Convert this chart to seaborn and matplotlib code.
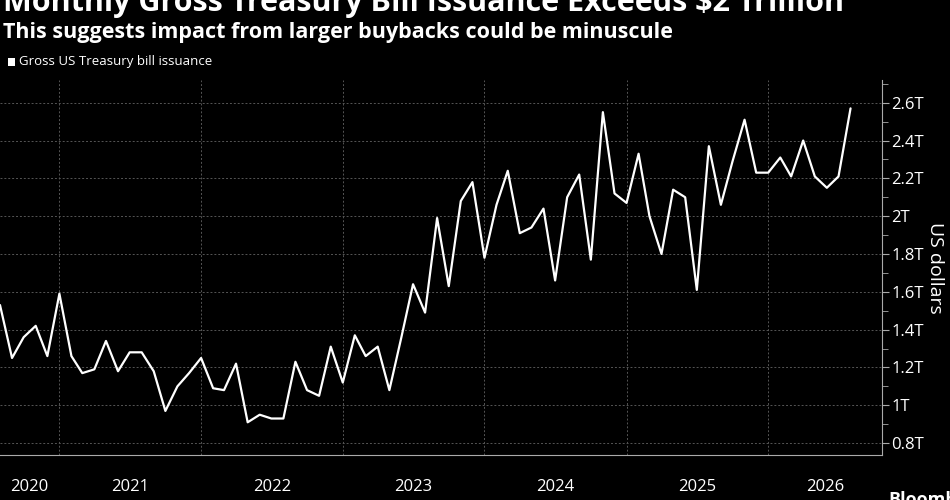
import matplotlib
matplotlib.use("Agg")
import matplotlib.pyplot as plt
import matplotlib.dates as mdates
import seaborn as sns
import pandas as pd
import numpy as np

values = [1.53,1.25,1.36,1.42,1.26,1.59,1.26,1.17,1.19,1.34,1.18,1.28,1.28,1.18,0.97,1.10,
          1.17,1.25,1.09,1.08,1.22,0.91,0.95,0.93,0.93,1.23,1.08,1.05,1.31,1.12,1.37,1.26,
          1.31,1.08,1.36,1.64,1.49,1.99,1.63,2.08,2.18,1.78,2.06,2.24,1.91,1.94,2.04,1.66,
          2.10,2.22,1.77,2.55,2.12,2.07,2.33,2.00,1.80,2.14,2.10,1.61,2.37,2.06,2.29,2.51,
          2.23,2.23,2.31,2.21,2.40,2.21,2.15,2.21,2.57]
dates = pd.date_range("2020-08-01", periods=len(values), freq="MS")
years = [2020, 2021, 2022, 2023, 2024, 2025, 2026]
yticks = [0.8, 1.0, 1.2, 1.4, 1.6, 1.8, 2.0, 2.2, 2.4, 2.6]
ytick_labels = ["0.8T", "1T", "1.2T", "1.4T", "1.6T", "1.8T", "2T", "2.2T", "2.4T", "2.6T"]
df = pd.DataFrame({"date": dates, "value": values})

sns.set_style("dark")
plt.rcParams["font.family"] = ["Open Sans", "DejaVu Sans"]
fig = plt.figure(figsize=(9.5, 5), dpi=100, facecolor="black")
ax = fig.add_axes([0.0, 0.09, 0.928, 0.75], facecolor="black")
sns.lineplot(data=df, x="date", y="value", color="white", linewidth=1.6, ax=ax)

xmin = pd.Timestamp("2020-08-01"); xmax = pd.Timestamp("2026-10-20")
ax.set_xlim(xmin, xmax)
ax.set_ylim(0.737, 2.72)
ax.yaxis.tick_right()
ax.set_yticks(yticks)
ax.set_yticklabels(ytick_labels, color="white", fontsize=12)
ax.set_yticks(np.arange(0.9, 2.71, 0.2), minor=True)
ax.tick_params(axis="y", which="major", length=5, color="#aaaaaa", pad=2)
ax.tick_params(axis="y", which="minor", length=4, color="#aaaaaa")
ax.yaxis.set_label_position("right")
ax.set_ylabel("US dollars", color="white", fontsize=14, rotation=270, labelpad=14)
ax.set_xlabel("")

bounds = [pd.Timestamp(f"{y}-01-01") for y in years[1:]]
ax.set_xticks(bounds)
ax.set_xticklabels([])
ax.xaxis.set_minor_locator(mdates.MonthLocator(bymonth=[1,4,7,10]))
ax.tick_params(axis="x", which="major", length=40, color="#888888", width=0.8)
ax.tick_params(axis="x", which="minor", length=4, color="#888888")
ax.grid(True, which="major", axis="both", color="#555555", linestyle=(0, (2, 2)), linewidth=0.7)

for s in ["top", "left"]:
    ax.spines[s].set_visible(False)
ax.spines["bottom"].set_color("#aaaaaa")
ax.spines["right"].set_color("#aaaaaa")

for y in years:
    a = max(pd.Timestamp(f"{y}-01-01"), xmin); b = min(pd.Timestamp(f"{y+1}-01-01"), xmax)
    mid = a + (b - a) / 2
    ax.text(mid, -0.085, str(y), transform=ax.get_xaxis_transform(), color="white",
            fontsize=12, ha="center", va="center")

fig.text(0.003, 0.995, "Monthly Gross Treasury Bill Issuance Exceeds $2 Trillion", color="white",
         fontsize=22, fontweight="bold", va="center", ha="left")
fig.text(0.003, 0.935, "This suggests impact from larger buybacks could be minuscule", color="white",
         fontsize=15.5, fontweight="bold", va="center", ha="left")
fig.patches.append(plt.Rectangle((0.008, 0.868), 0.008, 0.016, transform=fig.transFigure,
                                 facecolor="white", edgecolor="none"))
fig.text(0.02, 0.876, "Gross US Treasury bill issuance", color="white", fontsize=9.5, va="center")
fig.text(0.935, 0.0, "Bloomberg", color="white", fontsize=13, fontweight="bold", va="center")
fig.savefig("out.png", dpi=100, facecolor="black")
